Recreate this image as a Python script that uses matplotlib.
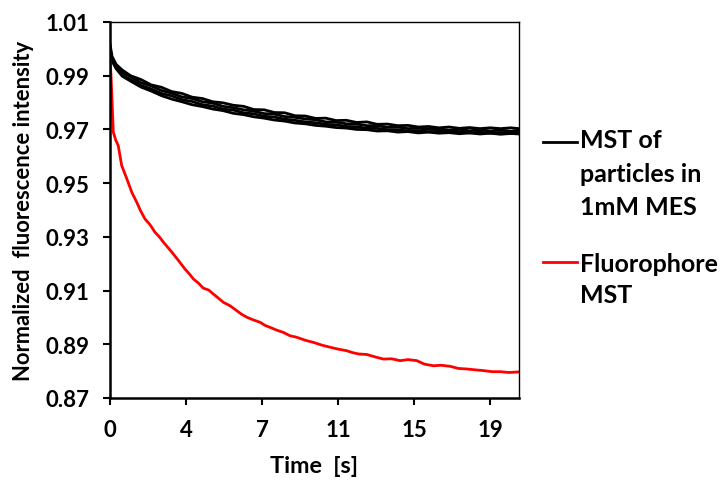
import matplotlib
matplotlib.use('Agg')
import matplotlib.pyplot as plt
from matplotlib.lines import Line2D

plt.rcParams['font.family'] = ['Lato', 'DejaVu Sans']
plt.rcParams['font.weight'] = 'bold'

# czas [s] dla krzywej fluoroforu
red_t = [0.00, 0.05, 0.16, 0.28, 0.40, 0.57, 0.80, 1.06, 1.30, 1.50, 1.70, 1.95,
         2.19, 2.40, 2.60, 2.80, 3.01, 3.30, 3.65, 3.85, 4.06, 4.30, 4.54, 4.80,
         5.03, 5.30, 5.52, 5.85, 6.17, 6.40, 6.65, 7.00, 7.30, 7.55, 7.79, 8.10,
         8.44, 8.75, 9.09, 9.50, 9.90, 10.30, 10.71, 11.10, 11.52, 11.80, 12.09,
         12.50, 12.90, 13.30, 13.70, 14.12, 14.50, 14.93, 15.30, 15.74, 16.10,
         16.55, 16.95, 17.37, 17.75, 18.17, 18.60, 18.99, 19.40, 19.88]
red_v = [0.9963, 0.9900, 0.9690, 0.9660, 0.9640, 0.9565, 0.9520, 0.9466, 0.9429,
         0.9395, 0.9367, 0.9345, 0.9317, 0.9300, 0.9280, 0.9262, 0.9243, 0.9215,
         0.9180, 0.9163, 0.9143, 0.9128, 0.9109, 0.9102, 0.9087, 0.9070, 0.9056,
         0.9043, 0.9025, 0.9012, 0.9001, 0.8990, 0.8982, 0.8970, 0.8963, 0.8953,
         0.8944, 0.8932, 0.8926, 0.8915, 0.8907, 0.8897, 0.8889, 0.8882, 0.8876,
         0.8869, 0.8864, 0.8862, 0.8853, 0.8845, 0.8846, 0.8839, 0.8843, 0.8839,
         0.8826, 0.8820, 0.8822, 0.8818, 0.8810, 0.8808, 0.8805, 0.8802, 0.8798,
         0.8798, 0.8795, 0.8797]

# czas [s] dla powtórzeń MST cząstek
blk_t = [0.0, 0.1, 0.3, 0.6, 1.0, 1.5, 2.0, 2.5, 3.0, 3.5, 4.0, 4.5, 5.0, 5.5,
         6.0, 6.5, 7.0, 7.5, 8.0, 8.5, 9.0, 9.5, 10.0, 10.5, 11.0, 11.5, 12.0,
         12.5, 13.0, 13.5, 14.0, 14.5, 15.0, 15.5, 16.0, 16.5, 17.0, 17.5, 18.0,
         18.5, 19.0, 19.5, 19.9]
blk_a = [1.0018, 0.9972, 0.9942, 0.9921, 0.9900, 0.9886, 0.9866, 0.9857, 0.9841,
         0.9834, 0.9820, 0.9815, 0.9803, 0.9799, 0.9790, 0.9786, 0.9774, 0.9773,
         0.9763, 0.9762, 0.9751, 0.9750, 0.9741, 0.9742, 0.9733, 0.9734, 0.9726,
         0.9728, 0.9719, 0.9720, 0.9714, 0.9715, 0.9709, 0.9711, 0.9706, 0.9709,
         0.9704, 0.9707, 0.9703, 0.9706, 0.9703, 0.9706, 0.9703]
blk_b = [1.0005, 0.9962, 0.9938, 0.9912, 0.9897, 0.9874, 0.9862, 0.9845, 0.9835,
         0.9821, 0.9815, 0.9803, 0.9798, 0.9786, 0.9781, 0.9773, 0.9768, 0.9759,
         0.9757, 0.9748, 0.9745, 0.9739, 0.9736, 0.9728, 0.9727, 0.9721, 0.9720,
         0.9714, 0.9714, 0.9708, 0.9709, 0.9703, 0.9705, 0.9700, 0.9702, 0.9697,
         0.9700, 0.9695, 0.9699, 0.9694, 0.9698, 0.9693, 0.9697]
blk_c = [1.0000, 0.9958, 0.9929, 0.9902, 0.9886, 0.9864, 0.9851, 0.9834, 0.9825,
         0.9811, 0.9804, 0.9792, 0.9787, 0.9776, 0.9772, 0.9762, 0.9758, 0.9749,
         0.9746, 0.9738, 0.9734, 0.9728, 0.9725, 0.9719, 0.9717, 0.9711, 0.9710,
         0.9704, 0.9704, 0.9699, 0.9699, 0.9694, 0.9696, 0.9691, 0.9693, 0.9689,
         0.9691, 0.9687, 0.9690, 0.9686, 0.9689, 0.9685, 0.9688]
blk_d = [0.9995, 0.9955, 0.9926, 0.9898, 0.9880, 0.9858, 0.9843, 0.9826, 0.9813,
         0.9803, 0.9792, 0.9785, 0.9776, 0.9770, 0.9760, 0.9755, 0.9747, 0.9742,
         0.9735, 0.9731, 0.9724, 0.9721, 0.9715, 0.9712, 0.9707, 0.9705, 0.9700,
         0.9699, 0.9694, 0.9695, 0.9690, 0.9692, 0.9687, 0.9690, 0.9686, 0.9688,
         0.9684, 0.9687, 0.9683, 0.9686, 0.9682, 0.9685, 0.9683]

xtick_pos = [0, 3.7, 7.4, 11.1, 14.8, 18.5]
xtick_lab = ['0', '4', '7', '11', '15', '19']
ytick_pos = [0.87, 0.89, 0.91, 0.93, 0.95, 0.97, 0.99, 1.01]

legend_black = ['MST of', 'particles in', '1mM MES']
legend_red = ['Fluorophore', 'MST']

fig = plt.figure(figsize=(7.26, 4.81), dpi=100)
W, H = 726, 481
ax = fig.add_axes([110 / W, 1 - 399 / H, 409 / W, 376 / H])

for v in (blk_a, blk_b, blk_c, blk_d):
    ax.plot(blk_t, v, color='black', lw=2.0)
ax.plot(red_t, red_v, color='red', lw=2.0)

ax.set_xlim(0, 19.9)
ax.set_ylim(0.87, 1.01)
ax.set_xticks(xtick_pos)
ax.set_xticklabels(xtick_lab)
ax.set_yticks(ytick_pos)
ax.set_yticklabels([f'{y:.2f}' for y in ytick_pos])
ax.tick_params(axis='x', direction='out', length=5, width=1.5, pad=10, labelsize=16)
ax.tick_params(axis='y', direction='out', length=5, width=1.5, pad=10, labelsize=16)
for s in ('left', 'bottom'):
    ax.spines[s].set_linewidth(1.8)
for s in ('top', 'right'):
    ax.spines[s].set_linewidth(1.0)

fig.text(24 / W, 1 - 211 / H, 'Normalized  fluorescence intensity', rotation=90,
         ha='center', va='center', fontsize=15.8, fontweight='bold')
fig.text(314.5 / W, 1 - 467 / H, 'Time  [s]', ha='center', va='center',
         fontsize=16.8, fontweight='bold')

# legenda rysowana ręcznie (klucz przy pierwszej linii opisu)
fig.add_artist(Line2D([543 / W, 577 / W], [1 - 142.7 / H] * 2, color='black', lw=2.0,
                      transform=fig.transFigure))
fig.add_artist(Line2D([543 / W, 577 / W], [1 - 263.3 / H] * 2, color='red', lw=2.0,
                      transform=fig.transFigure))
for txt, yb in zip(legend_black, [148.3, 181.7, 215.0]):
    fig.text(580 / W, 1 - yb / H, txt, ha='left', va='baseline', fontsize=18,
             fontweight='bold')
for txt, yb in zip(legend_red, [271.7, 303.3]):
    fig.text(580 / W, 1 - yb / H, txt, ha='left', va='baseline', fontsize=18,
             fontweight='bold')

fig.savefig('out.png', dpi=100)
